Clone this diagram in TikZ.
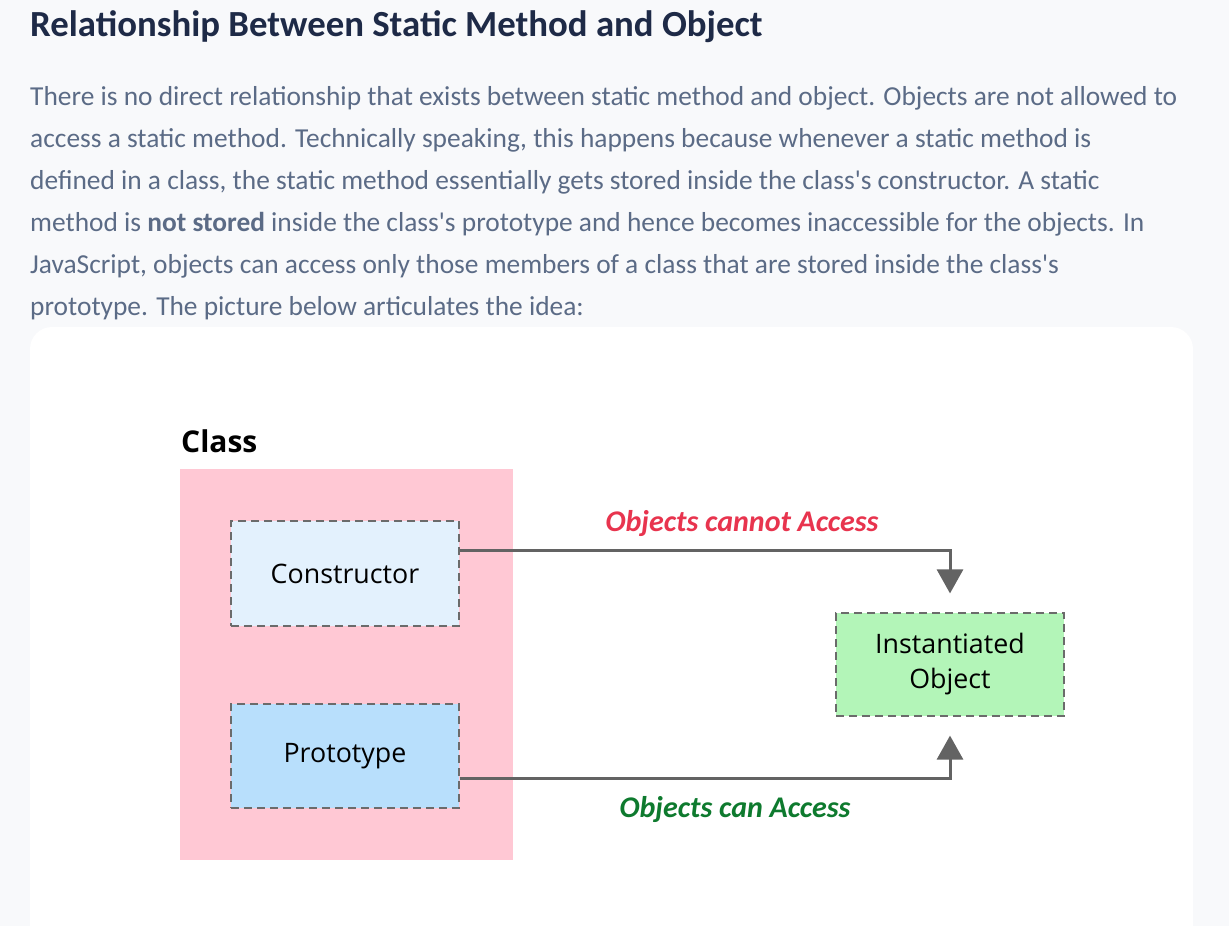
\documentclass[tikz,border=0pt]{standalone}
\usepackage{fontspec}
\setmainfont{Carlito}[Ligatures=TeXOff]
\newfontfamily\boxf{Open Sans}
\usetikzlibrary{arrows.meta}
\definecolor{pagebg}{HTML}{F8F9FB}
\definecolor{titlec}{HTML}{1E2A47}
\definecolor{parac}{HTML}{5B6B86}
\definecolor{pinkc}{HTML}{FFC8D4}
\definecolor{consc}{HTML}{E3F1FD}
\definecolor{protoc}{HTML}{B8DFFC}
\definecolor{objc}{HTML}{B3F5B8}
\definecolor{dashc}{HTML}{6B6B6B}
\definecolor{linec}{HTML}{636363}
\definecolor{redc}{HTML}{E8344E}
\definecolor{greenc}{HTML}{0E7A2E}
\tikzset{
  boxn/.style={draw=dashc, line width=1.2pt, dash pattern=on 8pt off 5pt, minimum width=228pt, inner sep=0pt, font=\boxf\fontsize{26.8}{35}\selectfont, align=center},
  conn/.style={draw=linec, line width=3pt, -{Triangle[width=26pt,length=24pt]}},
  paraline/.style={anchor=base west, inner sep=0pt, text=parac, font=\fontsize{27.4}{30}\selectfont},
  lbl/.style={inner sep=0pt, font=\bfseries\itshape\fontsize{30}{34}\selectfont},
}
\begin{document}
\begin{tikzpicture}[x=1pt,y=-1pt]
\useasboundingbox (0,0) rectangle (1229,926);
\clip (0,0) rectangle (1229,926);
\fill[pagebg] (0,0) rectangle (1229,926);
\fill[white, rounded corners=22pt] (30,327) rectangle (1193,980);
% title
\node[anchor=base west, inner sep=0pt, text=titlec, font=\bfseries\fontsize{36.8}{40}\selectfont] (title) at (30,36) {Relationship Between Static Method and Object};
% paragraph
\node[paraline] (p1) at (30,105) {There is no direct relationship that exists between static method and object. Objects are not allowed to};
\node[paraline] (p2) at (30,147) {access a static method. Technically speaking, this happens because whenever a static method is};
\node[paraline] (p3) at (30,189) {defined in a class, the static method essentially gets stored inside the class's constructor. A static};
\node[paraline] (p4) at (30,231) {method is \textbf{not stored} inside the class's prototype and hence becomes inaccessible for the objects. In};
\node[paraline] (p5) at (30,273) {JavaScript, objects can access only those members of a class that are stored inside the class's};
\node[paraline] (p6) at (30,315) {prototype. The picture below articulates the idea:};
% diagram
\node[anchor=base west, inner sep=0pt, font=\boxf\bfseries\fontsize{30}{32}\selectfont] (classlbl) at (181,452) {Class};
\node[fill=pinkc, minimum width=333pt, minimum height=391pt, inner sep=0pt] (classbox) at (346.5,664.5) {};
\node[boxn, fill=consc, minimum height=105pt] (cons) at (345,573.5) {Constructor};
\node[boxn, fill=protoc, minimum height=104pt] (proto) at (345,756) {Prototype};
\node[boxn, fill=objc, minimum height=103pt] (obj) at (950,664.5) {Instantiated\\Object};
\draw[conn] ([yshift=23.5pt]cons.east) -| ([yshift=19pt]obj.north);
\draw[conn] ([yshift=-22pt]proto.east) -| ([yshift=-19pt]obj.south);
\node[lbl, text=redc] (lcannot) at (742,524) {Objects cannot Access};
\node[lbl, text=greenc] (lcan) at (735,809) {Objects can Access};
\end{tikzpicture}
\end{document}
